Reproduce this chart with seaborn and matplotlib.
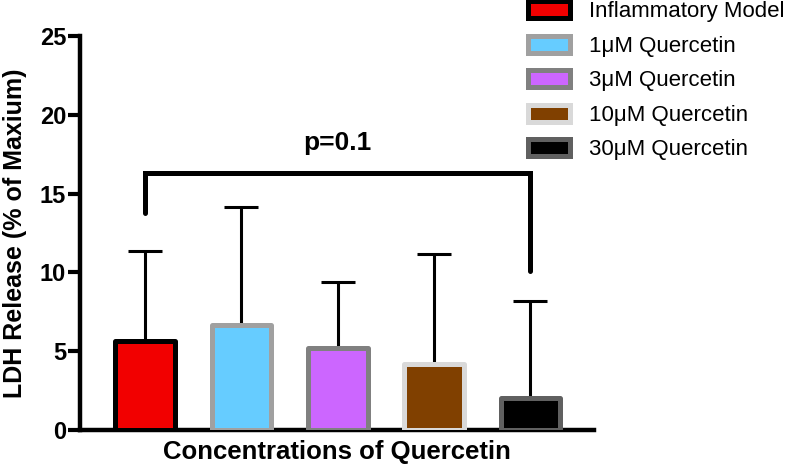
import seaborn as sns
import matplotlib.pyplot as plt
import pandas as pd

sns.set_style("ticks")
plt.rcParams['font.family'] = ['Liberation Sans', 'DejaVu Sans']
plt.rcParams['text.color'] = 'black'
plt.rcParams['axes.labelcolor'] = 'black'
plt.rcParams['axes.edgecolor'] = 'black'
plt.rcParams['ytick.color'] = 'black'

groups = ['Inflammatory Model', '1\u03bcM Quercetin', '3\u03bcM Quercetin',
          '10\u03bcM Quercetin', '30\u03bcM Quercetin']
means = [5.66, 6.68, 5.19, 4.2, 2.04]
upper = [11.38, 14.17, 9.39, 11.17, 8.19]
fills = ['#F20000', '#66CCFF', '#CC66FF', '#804000', '#000000']
edges = ['#000000', '#A0A0A0', '#808080', '#D9D9D9', '#606060']

# significance bracket between first and last group
bracket_x = [0, 0, 4, 4]
bracket_y = [13.8, 16.3, 16.3, 10.1]
p_text = 'p=0.1'
p_pos = (2, 18.2)

data = pd.DataFrame({'group': groups, 'mean': means, 'upper': upper})

fig = plt.figure(figsize=(7.87, 4.66), dpi=100)
ax = fig.add_axes([80 / 787, 1 - 430 / 466, (594 - 80) / 787, (430 - 36) / 466])

sns.barplot(data=data, x='group', y='mean', hue='group', palette=fills,
            width=0.62, legend=False, ax=ax, zorder=3)

for bar, fc, ec in zip(ax.patches, fills, edges):
    bar.set_facecolor(fc)
    bar.set_edgecolor(ec)
    bar.set_linewidth(3.6)
    bar.set_joinstyle('round')

err = data['upper'] - data['mean']
ax.errorbar(range(len(groups)), data['mean'], yerr=[[0] * len(groups), err],
            fmt='none', ecolor='black', elinewidth=2.2, capsize=12.5,
            capthick=2.2, zorder=2)

ax.plot(bracket_x, bracket_y, color='black', lw=3.6,
        solid_capstyle='round', solid_joinstyle='miter', zorder=4)
ax.text(p_pos[0], p_pos[1], p_text, ha='center', va='center',
        fontsize=19, fontweight='bold')

ax.set_xlim(-0.675, 4.66)
ax.set_ylim(0, 25)
ax.set_yticks([0, 5, 10, 15, 20, 25])
ax.set_xticks([])
sns.despine(ax=ax)
for side in ['left', 'bottom']:
    ax.spines[side].set_linewidth(3.2)
ax.tick_params(axis='y', length=9, width=3, labelsize=17, pad=1)
for lab in ax.get_yticklabels():
    lab.set_fontweight('bold')

ax.set_xlabel('Concentrations of Quercetin', fontsize=18.5, fontweight='bold',
              labelpad=7)
ax.set_ylabel('LDH Release (% of Maxium)', fontsize=18, fontweight='bold',
              labelpad=9)

ax.legend(handles=ax.patches[:len(groups)], labels=groups, frameon=False,
          loc='upper left', bbox_to_anchor=(528 / 787, 1 - 1 / 466),
          bbox_transform=fig.transFigure, fontsize=16, borderpad=0,
          borderaxespad=0, handlelength=1.9, handleheight=0.8,
          handletextpad=0.85, labelspacing=0.6)

fig.savefig('out.png', dpi=100)
